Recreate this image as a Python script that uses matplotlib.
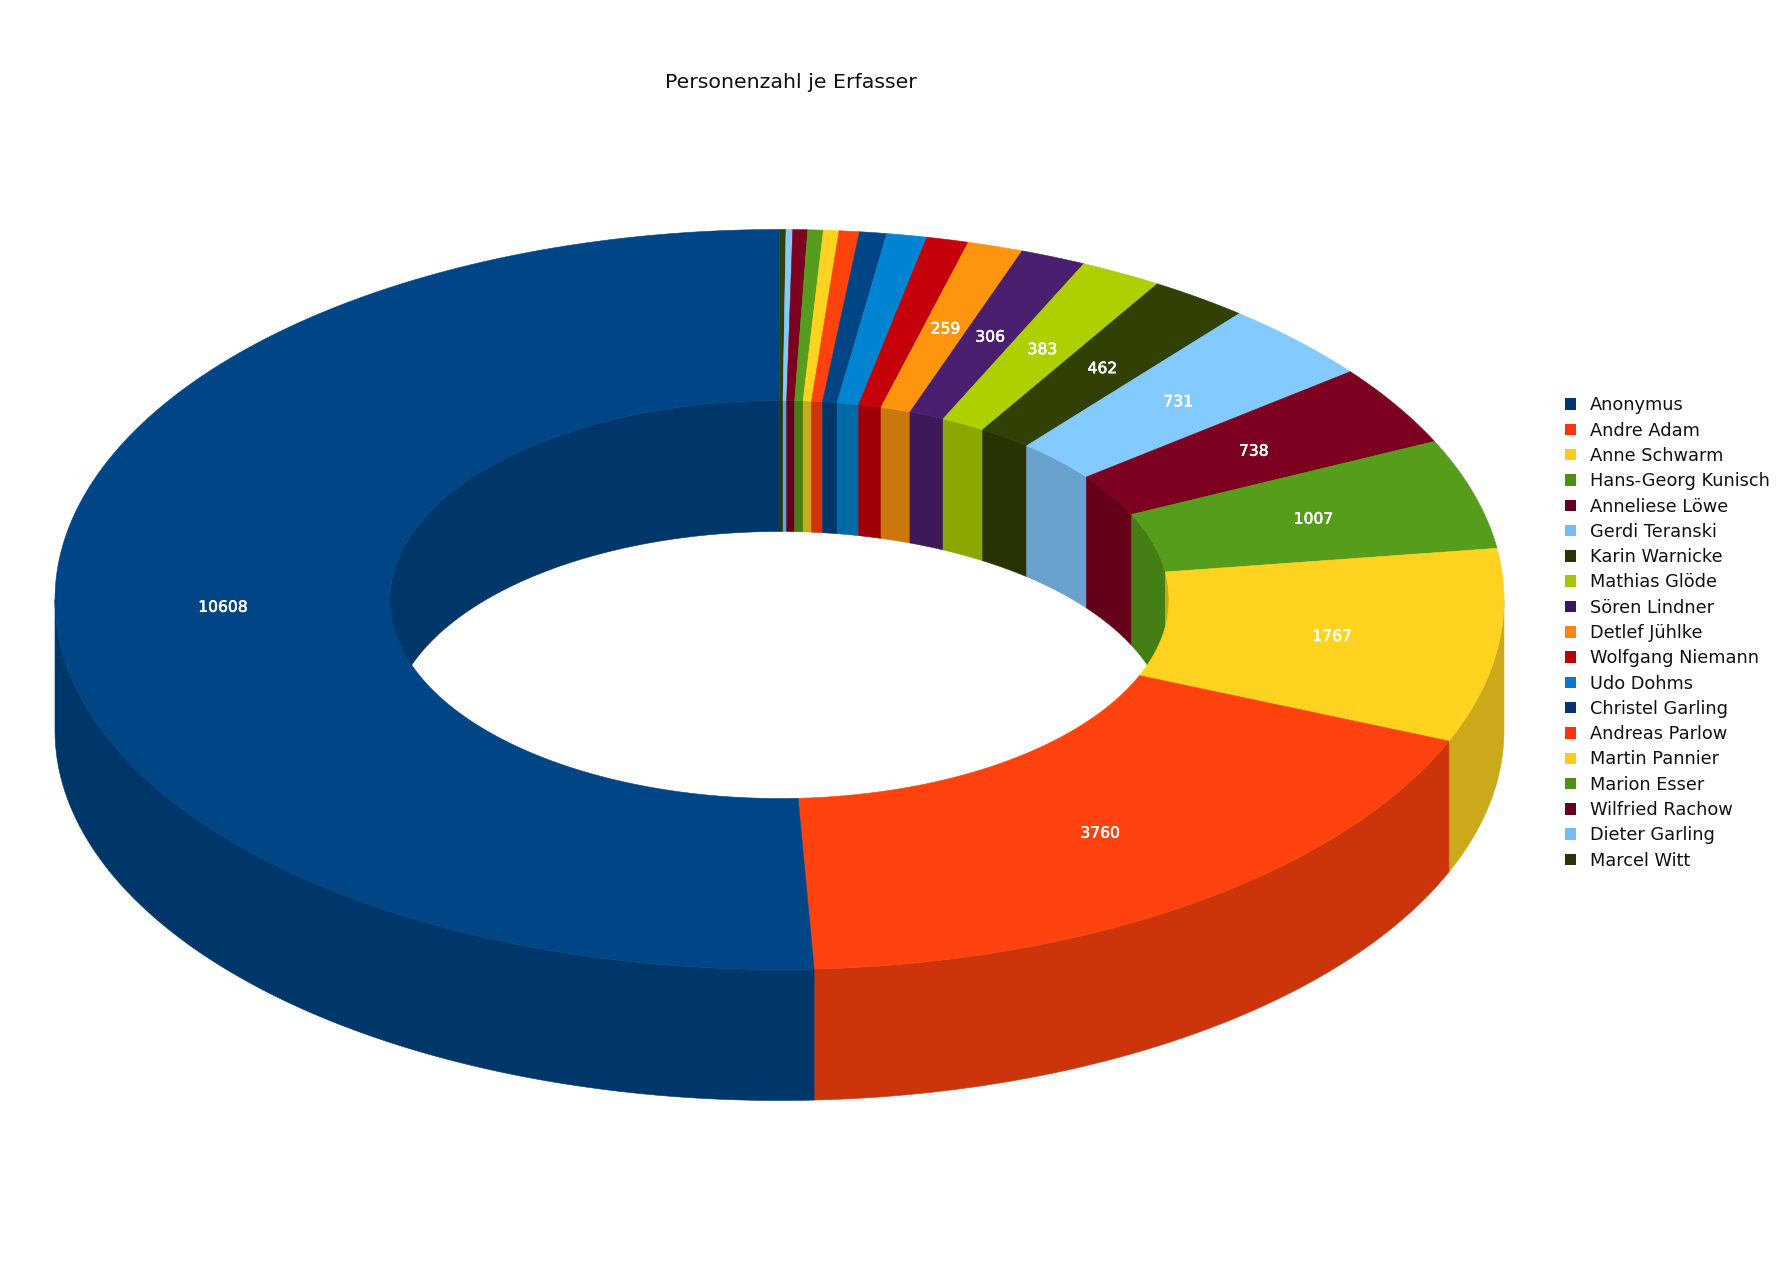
import numpy as np
import matplotlib
matplotlib.use('Agg')
import matplotlib.pyplot as plt
import matplotlib.patheffects as pe
from matplotlib.patches import Patch

names = ['Anonymus', 'Andre Adam', 'Anne Schwarm', 'Hans-Georg Kunisch', 'Anneliese Löwe',
         'Gerdi Teranski', 'Karin Warnicke', 'Mathias Glöde', 'Sören Lindner', 'Detlef Jühlke',
         'Wolfgang Niemann', 'Udo Dohms', 'Christel Garling', 'Andreas Parlow', 'Martin Pannier',
         'Marion Esser', 'Wilfried Rachow', 'Dieter Garling', 'Marcel Witt']
values = [10608, 3760, 1767, 1007, 738, 731, 462, 383, 306, 259, 196, 186, 127, 94, 72, 72, 69, 31, 30]

palette = ['#004586', '#ff420e', '#ffd320', '#579d1c', '#7e0021', '#83caff',
           '#314004', '#aecf00', '#4b1f6f', '#ff950e', '#c5000b', '#0084d1']
legend_palette = ['#033275', '#ff3311', '#ffcc11', '#4b9211', '#660022', '#77bbff',
                  '#2b3507', '#a5c700', '#3d1460', '#ff8411', '#b8000a', '#0e75cc']
label_min = 259

# ring geometry in pixels
cx, cy = 779.5, 599.5
out_a, out_b = 724.5, 370
in_a, in_b = 389.5, 199
depth = 131
side_shade = 0.8


def arc(a, b, t0, t1, shift=0):
    # angles in degrees, clockwise from the top
    t = np.radians(np.linspace(t0, t1, max(int(abs(t1 - t0) * 2), 2) + 1))
    return cx + a * np.sin(t), cy - b * np.cos(t) + shift


def wall(ax, a, b, t0, t1, color):
    x, y = arc(a, b, t0, t1)
    xs, ys = arc(a, b, t1, t0, depth)
    ax.fill(np.r_[x, xs], np.r_[y, ys], color=color, lw=0.4)


def shade(color):
    return tuple(c * side_shade for c in matplotlib.colors.to_rgb(color))


def main():
    fig = plt.figure(figsize=(17.86, 12.63), dpi=100)
    ax = fig.add_axes([0, 0, 1, 1])
    ax.set_xlim(0, 1786)
    ax.set_ylim(1263, 0)
    ax.axis('off')

    # slices run clockwise from the top, last name first
    order = list(range(len(values)))[::-1]
    degrees = np.array([values[i] for i in order]) * 360 / sum(values)
    ends = np.cumsum(degrees)
    starts = ends - degrees
    colors = [palette[i % 12] for i in order]

    # inner walls of the far half and outer walls of the near half
    for t0, t1, c in zip(starts, ends, colors):
        if t0 < 90:
            wall(ax, in_a, in_b, t0, min(t1, 90), shade(c))
        if t1 > 270:
            wall(ax, in_a, in_b, max(t0, 270), t1, shade(c))
        if t1 > 90 and t0 < 270:
            wall(ax, out_a, out_b, max(t0, 90), min(t1, 270), shade(c))

    # top faces
    for t0, t1, c in zip(starts, ends, colors):
        x, y = arc(out_a, out_b, t0, t1)
        xi, yi = arc(in_a, in_b, t1, t0)
        ax.fill(np.r_[x, xi], np.r_[y, yi], color=c, lw=0.4)

    # value labels in the middle of the ring
    for idx, t0, t1 in zip(order, starts, ends):
        if values[idx] < label_min:
            continue
        mid = np.radians((t0 + t1) / 2)
        ax.text(cx + (out_a + in_a) / 2 * np.sin(mid), cy - (out_b + in_b) / 2 * np.cos(mid) + 1,
                str(values[idx]), color='white', fontsize=11.2, ha='center', va='center',
                path_effects=[pe.withStroke(linewidth=0.4, foreground='white')])

    ax.text(790.5, 82.5, 'Personenzahl je Erfasser', fontsize=14.75, ha='center', va='center', color='#111111')

    handles = [Patch(facecolor=legend_palette[i % 12], edgecolor='none', label=names[i])
               for i in range(len(names))]
    fpx = 17.7
    ax.legend(handles=handles, loc='upper left', bbox_to_anchor=(1565, 396.4),
              bbox_transform=ax.transData, frameon=False, prop={'size': fpx * 0.72},
              handlelength=11 / fpx, handleheight=11 / fpx, handletextpad=14 / fpx,
              labelspacing=0.412, borderpad=0, borderaxespad=0, labelcolor='#111111')

    fig.savefig('out.png', dpi=100)


if __name__ == '__main__':
    main()
